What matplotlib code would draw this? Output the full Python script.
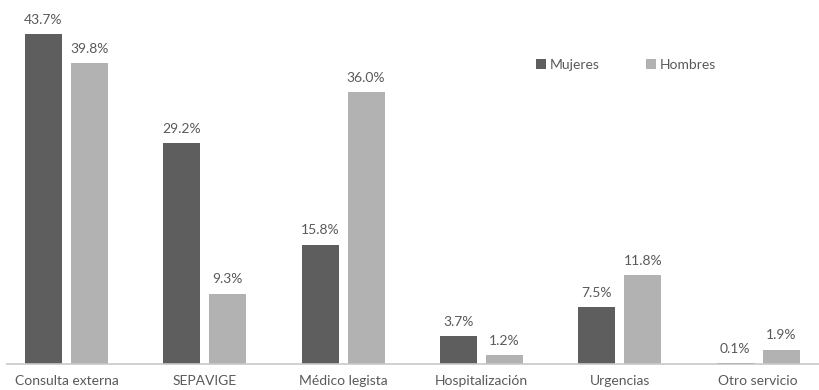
import matplotlib
matplotlib.use("Agg")
import matplotlib.pyplot as plt
import numpy as np

categories = ["Consulta externa", "SEPAVIGE", "Médico legista",
              "Hospitalización", "Urgencias", "Otro servicio"]
mujeres = [43.7, 29.2, 15.8, 3.7, 7.5, 0.1]
hombres = [39.8, 9.3, 36.0, 1.2, 11.8, 1.9]
series_names = ["Mujeres", "Hombres"]

dark = "#5e5e5e"
light = "#b2b2b2"
text_color = "#595959"
fs = 10

plt.rcParams["font.family"] = ["Lato", "DejaVu Sans"]

fig = plt.figure(figsize=(8.19, 3.9), dpi=100)
W, H = 819, 390
ax = fig.add_axes([7 / W, 26 / H, (819 - 7) / W, 364 / H])

x = np.arange(len(categories))
width = 0.268
offset = 0.166

b1 = ax.bar(x - offset, mujeres, width, color=dark, label=series_names[0])
b2 = ax.bar(x + offset, hombres, width, color=light, label=series_names[1])

for bars, vals in ((b1, mujeres), (b2, hombres)):
    for rect, v in zip(bars, vals):
        ax.annotate(f"{v:.1f}%", (rect.get_x() + rect.get_width() / 2, v),
                    xytext=(0, 6), textcoords="offset points",
                    ha="center", va="bottom", fontsize=fs, color=text_color)

ax.set_xlim(-0.43, 5.44)
ax.set_ylim(0, 48.2)
ax.set_xticks(x)
ax.set_xticklabels(categories, fontsize=fs, color=text_color)
ax.tick_params(axis="x", length=0, pad=8)
ax.set_yticks([])
for side in ("top", "right", "left"):
    ax.spines[side].set_visible(False)
ax.spines["bottom"].set_color("#c8c8c8")
ax.spines["bottom"].set_linewidth(1.2)

leg = ax.legend(loc="center", bbox_to_anchor=(626 / W, (390 - 65) / H),
                bbox_transform=fig.transFigure, ncol=2, frameon=False,
                fontsize=fs, handlelength=0.7, handleheight=0.7,
                handletextpad=0.25, columnspacing=3.4)
for t in leg.get_texts():
    t.set_color(text_color)

fig.savefig("out.png", dpi=100)
